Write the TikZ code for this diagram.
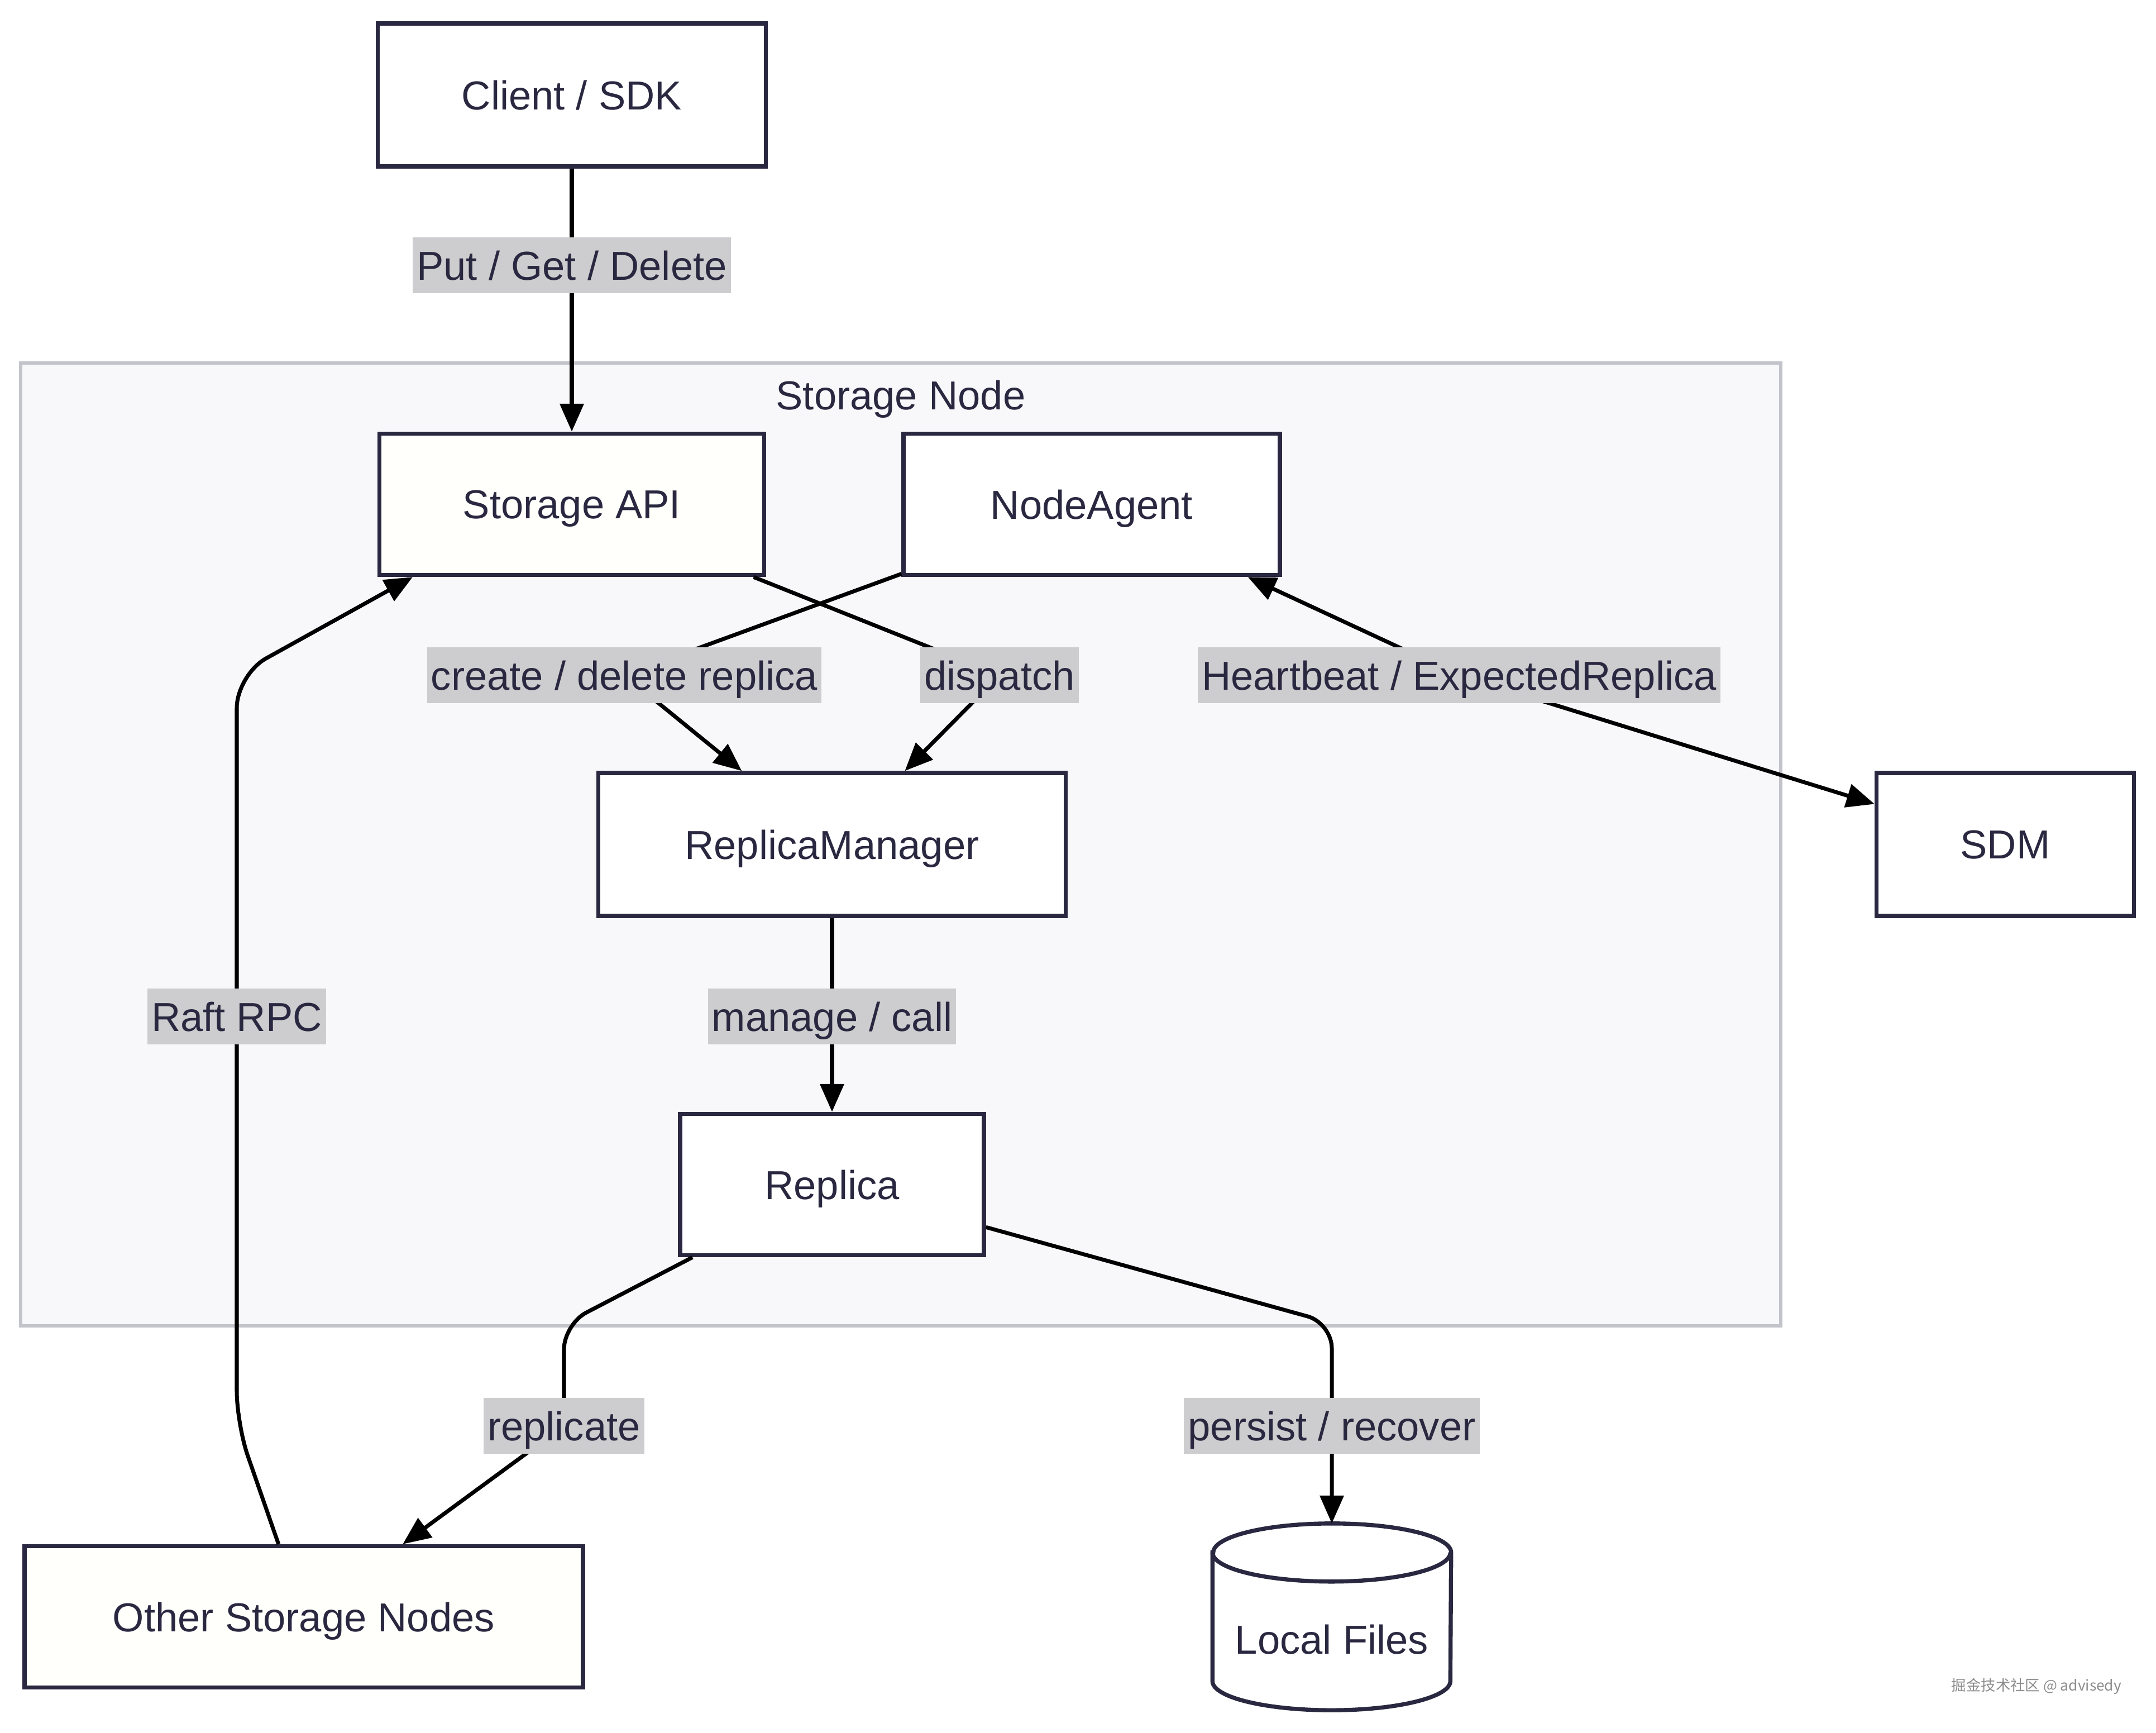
\documentclass[tikz,border=0pt]{standalone}
\usepackage{fontspec}
\setmainfont{Liberation Sans}
\newfontfamily\cjkfont{Noto Sans CJK SC}
\usetikzlibrary{arrows.meta}
\definecolor{ink}{HTML}{2A2840}
\definecolor{lblgray}{HTML}{CDCDCF}
\definecolor{groupfill}{HTML}{F8F8FA}
\definecolor{groupline}{HTML}{C3C3CB}
\definecolor{cream}{HTML}{FFFFFB}

\begin{document}
\begin{tikzpicture}[
    font=\fontsize{20.6}{24}\selectfont,
    >={Triangle[length=0.5cm,width=0.42cm]},
    box/.style={draw=ink, line width=2.1pt, fill=white, text=ink, inner sep=0pt, text depth=0pt, minimum height=2.53cm},
    elabel/.style={fill=lblgray, text=ink, sharp corners, inner xsep=2pt, inner ysep=0pt, text depth=0pt, minimum height=1cm},
    flow/.style={line width=2pt, ->},
    softturn/.style={rounded corners=0.45cm}
  ]
		\useasboundingbox (0,0) rectangle (38.61,-31.02);
		% Storage Node group
		\filldraw[fill=groupfill, draw=groupline, line width=1.7pt] (0.37,-6.50) rectangle (31.89,-23.74);
		\node[text=ink, text depth=0pt] (groupTitle) at (16.13,-7.07) {Storage Node};

		\node[box, minimum width=6.95cm, minimum height=2.56cm] (client) at (10.24,-1.70) {Client / SDK};
		\node[box, fill=cream, minimum width=6.89cm] (api) at (10.24,-9.03) {Storage API};
		\node[box, minimum width=6.74cm] (agent) at (19.55,-9.03) {NodeAgent};
		\node[box, minimum width=8.37cm, minimum height=2.56cm] (mgr) at (14.90,-15.12) {ReplicaManager};
		\node[box, minimum width=5.44cm] (replica) at (14.90,-21.21) {Replica};
		\node[box, minimum width=4.61cm, minimum height=2.56cm] (sdm) at (35.91,-15.12) {SDM};
		\node[box, fill=cream, minimum width=10.00cm] (others) at (5.44,-28.95) {Other Storage Nodes};

		% Local Files (cylinder)
		\node[inner sep=0pt, minimum width=4.26cm, minimum height=3.33cm] (files) at (23.85,-28.95) {};
		\filldraw[fill=white, draw=ink, line width=2.1pt] ([yshift=-0.52cm]files.north west) -- ([yshift=0.52cm]files.south west) arc (180:360:2.13 and 0.52) -- ([yshift=-0.52cm]files.north east) arc (0:180:2.13 and 0.52) -- cycle;
		\draw[ink, line width=2.1pt] ([yshift=-0.52cm]files.north west) arc (180:360:2.13 and 0.52);
		\node[text=ink, text depth=0pt] (filesText) at ([yshift=-0.40cm]files.center) {Local Files};

		% label points
		\coordinate (cPut) at (10.24,-4.75);
		\coordinate (cCreate) at (11.18,-12.09);
		\coordinate (cDisp) at (17.90,-12.09);
		\coordinate (cHb) at (26.13,-12.09);
		\coordinate (cManage) at (14.90,-18.20);
		\coordinate (cReplBend) at (10.10,-23.71);
		\coordinate (cRepl) at (10.10,-25.53);
		\coordinate (cPersBend) at (23.85,-23.69);
		\coordinate (cPers) at (23.85,-25.53);
		\coordinate (cRaftLow) at (4.24,-25.50);
		\coordinate (cRaft) at (4.24,-18.20);
		\coordinate (cRaftHigh) at (4.24,-12.08);
		\coordinate (apiIn) at ([xshift=-2.85cm]api.south);

		\draw[flow] (client) -- (cPut) node[elabel] (lPut) {Put / Get / Delete} -- (api);
		\draw[flow] (agent) -- (cCreate) node[elabel] (lCreate) {create / delete replica} -- (mgr);
		\draw[flow] (api) -- (cDisp) node[elabel] (lDisp) {dispatch} -- (mgr);
		\draw[flow, <->] (agent) -- (cHb) node[elabel] (lHb) {Heartbeat / ExpectedReplica} -- (sdm);
		\draw[flow] (mgr) -- (cManage) node[elabel] (lManage) {manage / call} -- (replica);
		\draw[flow, softturn] (replica) -- (cReplBend) -- (cRepl) node[elabel] (lRepl) {replicate} -- (others);
		\draw[flow, softturn] (replica) -- (cPersBend) -- (cPers) node[elabel] (lPers) {persist / recover} -- (files);
		\draw[flow, rounded corners=0.6cm] (others) -- (cRaftLow) -- (cRaft) node[elabel] (lRaft) {Raft RPC} -- (cRaftHigh) -- (apiIn);

		\node[text=black!45, font=\cjkfont\fontsize{7.5}{9}\selectfont] (mark) at (36.47,-30.19) {掘金技术社区 @ advisedy};
	\end{tikzpicture}
\end{document}
